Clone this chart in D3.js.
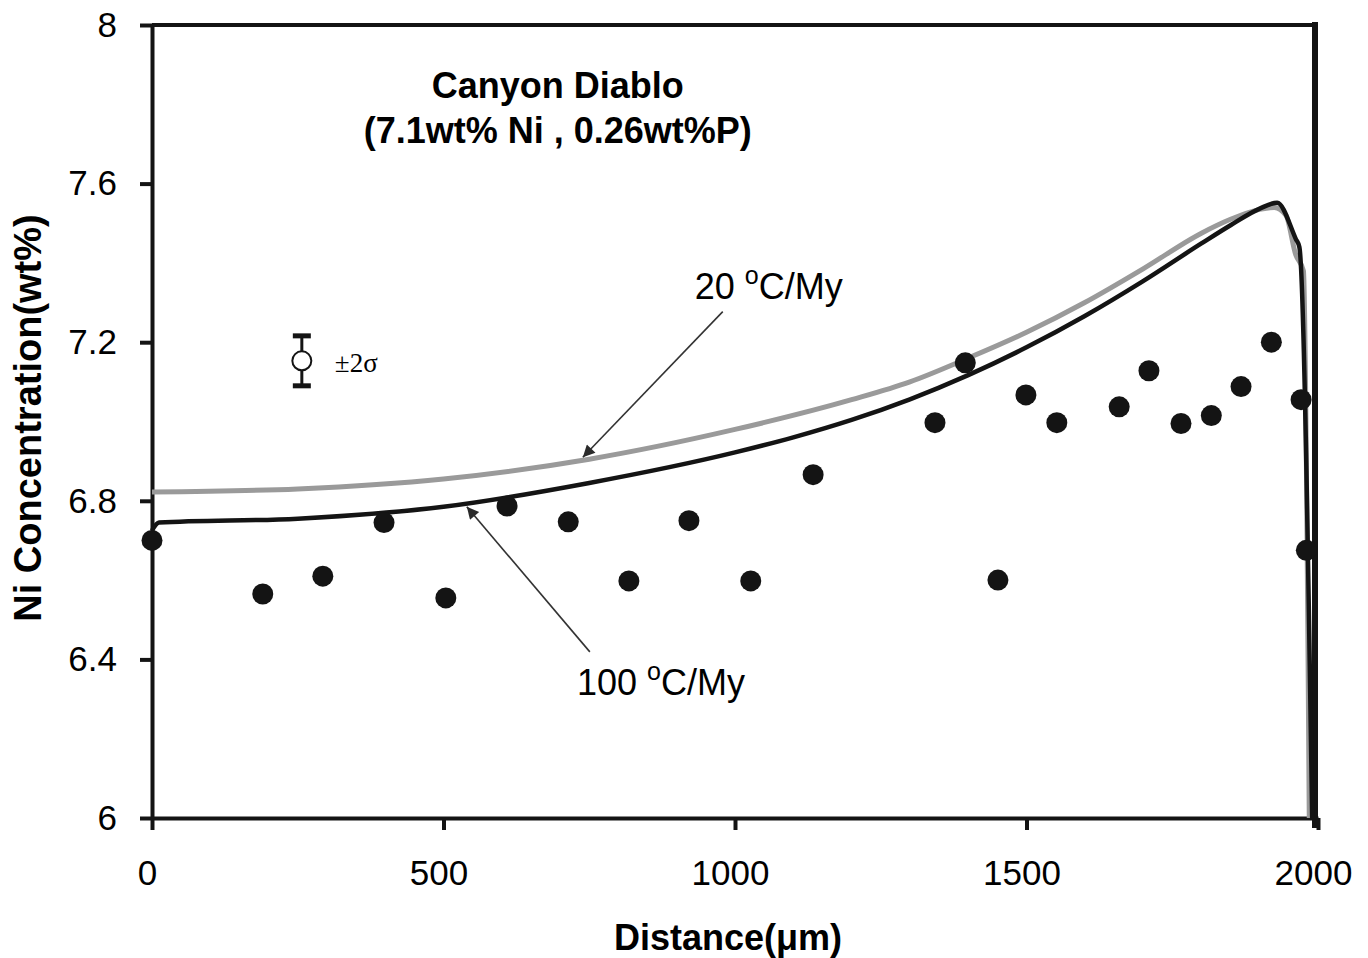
<!DOCTYPE html>
<html>
<head>
<meta charset="utf-8">
<script src="https://cdn.jsdelivr.net/npm/d3@7"></script>
<style>
  body { margin: 0; background: #fff; }
  svg { display: block; font-family: "Liberation Sans", Arial, sans-serif; }
</style>
</head>
<body>
<div id="chart"></div>
<script>
// measured Ni profile (distance in um, Ni in wt%)
var dotDistance = [0, 190, 293, 398, 504, 609, 714, 818, 921, 1027, 1134, 1343, 1395, 1451,
    1499, 1552, 1659, 1710, 1765, 1817, 1868, 1920, 1971, 1980];
var dotNi = [6.70, 6.565, 6.61, 6.745, 6.555, 6.787, 6.747, 6.598, 6.75, 6.598, 6.866, 6.997, 7.148, 6.60,
    7.067, 6.997, 7.037, 7.128, 6.995, 7.015, 7.088, 7.20, 7.055, 6.675];

// model curve, 20 C/My (grey)
var slowDistance = [0, 250, 500, 750, 1000, 1200, 1300, 1400, 1500, 1600, 1700, 1800, 1850, 1900, 1925, 1945, 1962, 1975, 1985];
var slowNi = [6.822, 6.83, 6.855, 6.905, 6.98, 7.055, 7.10, 7.16, 7.225, 7.30, 7.385, 7.475, 7.51, 7.535, 7.54, 7.52, 7.42, 7.38, 6.0];

// model curve, 100 C/My (black)
var fastDistance = [0, 12, 250, 500, 750, 1000, 1100, 1200, 1300, 1400, 1500, 1600, 1700, 1800, 1850, 1900, 1930, 1962, 1968, 1990];
var fastNi = [6.725, 6.745, 6.755, 6.785, 6.845, 6.922, 6.96, 7.004, 7.056, 7.117, 7.187, 7.266, 7.354, 7.449, 7.495, 7.537, 7.552, 7.46, 7.44, 6.0];

var xTicks = [0, 500, 1000, 1500, 2000];
var yTicks = [6, 6.4, 6.8, 7.2, 7.6, 8];

// error bar sample (+-2 sigma)
var errDistance = [257];
var errNi = [7.153];
var errSigma = [0.063];

var width = 1368, height = 958;
var margin = {top: 25, right: 50, bottom: 140, left: 152};

var svg = d3.select("#chart")
    .append("svg")
    .attr("width", width)
    .attr("height", height);

var x = d3.scaleLinear().domain([0, 2000]).range([margin.left, width - margin.right]);
var y = d3.scaleLinear().domain([6, 8]).range([height - margin.bottom, margin.top]);

var ink = "#141414";

// axes
var xAxis = svg.append("g")
    .attr("transform", "translate(0," + y(6) + ")")
    .call(d3.axisBottom(x).tickValues(xTicks).tickFormat(d3.format("d"))
        .tickSize(12).tickSizeOuter(0).tickPadding(30));

var yAxis = svg.append("g")
    .attr("transform", "translate(" + x(0) + ",0)")
    .call(d3.axisLeft(y).tickValues(yTicks).tickFormat(function (d) { return d3.format("")(+d.toFixed(1)); })
        .tickSize(12).tickSizeOuter(0).tickPadding(23));

[xAxis, yAxis].forEach(function (g) {
    g.select(".domain").attr("stroke", ink).attr("stroke-width", 4);
    g.selectAll(".tick line").attr("stroke", ink).attr("stroke-width", 4);
    g.selectAll(".tick text")
        .attr("fill", "#000")
        .style("font-size", "35px")
        .style("font-family", "'Liberation Sans', Arial, sans-serif");
});
xAxis.selectAll(".tick text").attr("dx", -5);

// top frame and heavy right frame
svg.append("line")
    .attr("x1", x(0)).attr("x2", x(2000))
    .attr("y1", y(8)).attr("y2", y(8))
    .attr("stroke", ink).attr("stroke-width", 4);
svg.append("line")
    .attr("x1", x(2000) - 3).attr("x2", x(2000) - 3)
    .attr("y1", y(8) - 3).attr("y2", y(6) + 10)
    .attr("stroke", ink).attr("stroke-width", 6);

// model curves
var line = d3.line()
    .x(function (d) { return x(d[0]); })
    .y(function (d) { return y(d[1]); })
    .curve(d3.curveMonotoneX);

svg.append("path")
    .datum(d3.zip(slowDistance, slowNi))
    .attr("d", line)
    .attr("fill", "none")
    .attr("stroke", "#9a9a9a")
    .attr("stroke-width", 5);

svg.append("path")
    .datum(d3.zip(fastDistance, fastNi))
    .attr("d", line)
    .attr("fill", "none")
    .attr("stroke", ink)
    .attr("stroke-width", 4.5);

// data points
svg.append("g")
    .selectAll("circle")
    .data(d3.zip(dotDistance, dotNi))
    .join("circle")
    .attr("cx", function (d) { return x(d[0]); })
    .attr("cy", function (d) { return y(d[1]); })
    .attr("r", 10.5)
    .attr("fill", ink);

// error bar legend
var err = svg.append("g");
err.selectAll("line.stem")
    .data(d3.range(errDistance.length))
    .join("line")
    .attr("x1", function (i) { return x(errDistance[i]); })
    .attr("x2", function (i) { return x(errDistance[i]); })
    .attr("y1", function (i) { return y(errNi[i] + errSigma[i]); })
    .attr("y2", function (i) { return y(errNi[i] - errSigma[i]); })
    .attr("stroke", ink).attr("stroke-width", 3);
[1, -1].forEach(function (s) {
    err.append("line")
        .attr("x1", x(errDistance[0]) - 9).attr("x2", x(errDistance[0]) + 9)
        .attr("y1", y(errNi[0] + s * errSigma[0])).attr("y2", y(errNi[0] + s * errSigma[0]))
        .attr("stroke", ink).attr("stroke-width", 5);
});
err.append("circle")
    .attr("cx", x(errDistance[0])).attr("cy", y(errNi[0]))
    .attr("r", 9.5)
    .attr("fill", "#fff").attr("stroke", ink).attr("stroke-width", 2);
err.append("text")
    .attr("x", x(errDistance[0]) + 33).attr("y", y(errNi[0]) + 11)
    .style("font-family", "'Liberation Serif', 'Times New Roman', serif")
    .style("font-size", "27px")
    .text("\u00b12\u03c3");

// title
var title = svg.append("text")
    .attr("text-anchor", "middle")
    .style("font-weight", "bold")
    .style("font-size", "36px");
title.append("tspan").attr("x", x(696)).attr("y", y(7.816)).text("Canyon Diablo");
title.append("tspan").attr("x", x(696)).attr("y", y(7.703)).text("(7.1wt% Ni , 0.26wt%P)");

// curve labels with arrows
svg.append("defs").append("marker")
    .attr("id", "head")
    .attr("viewBox", "0 0 10 10")
    .attr("refX", 10).attr("refY", 5)
    .attr("markerWidth", 16).attr("markerHeight", 12)
    .attr("markerUnits", "userSpaceOnUse")
    .attr("orient", "auto")
    .append("path")
    .attr("d", "M0,0L10,5L0,10z")
    .attr("fill", "#2a2a2a");

var rateLabel = function (d, ni, txt) {
    var t = svg.append("text")
        .attr("x", x(d)).attr("y", y(ni))
        .style("font-size", "36px");
    var parts = txt.split("o");
    t.append("tspan").text(parts[0]);
    t.append("tspan").attr("dy", -15).style("font-size", "25px").text("o");
    t.append("tspan").attr("dy", 15).text(parts[1]);
};
rateLabel(931, 7.31, "20 oC/My");
rateLabel(729, 6.311, "100 oC/My");

var arrows = [
    {from: [979, 7.277], to: [739, 6.91]},
    {from: [751, 6.419], to: [540, 6.785]}
];
svg.append("g")
    .selectAll("line")
    .data(arrows)
    .join("line")
    .attr("x1", function (d) { return x(d.from[0]); })
    .attr("y1", function (d) { return y(d.from[1]); })
    .attr("x2", function (d) { return x(d.to[0]); })
    .attr("y2", function (d) { return y(d.to[1]); })
    .attr("stroke", "#333")
    .attr("stroke-width", 1.6)
    .attr("marker-end", "url(#head)");

// axis titles
svg.append("text")
    .attr("x", 728).attr("y", 950)
    .attr("text-anchor", "middle")
    .style("font-weight", "bold")
    .style("font-size", "36px")
    .text("Distance(\u03bcm)");

svg.append("text")
    .attr("transform", "translate(41," + 418 + ") rotate(-90)")
    .attr("text-anchor", "middle")
    .style("font-weight", "bold")
    .style("font-size", "38px")
    .text("Ni Concentration(wt%)");
</script>
</body>
</html>
